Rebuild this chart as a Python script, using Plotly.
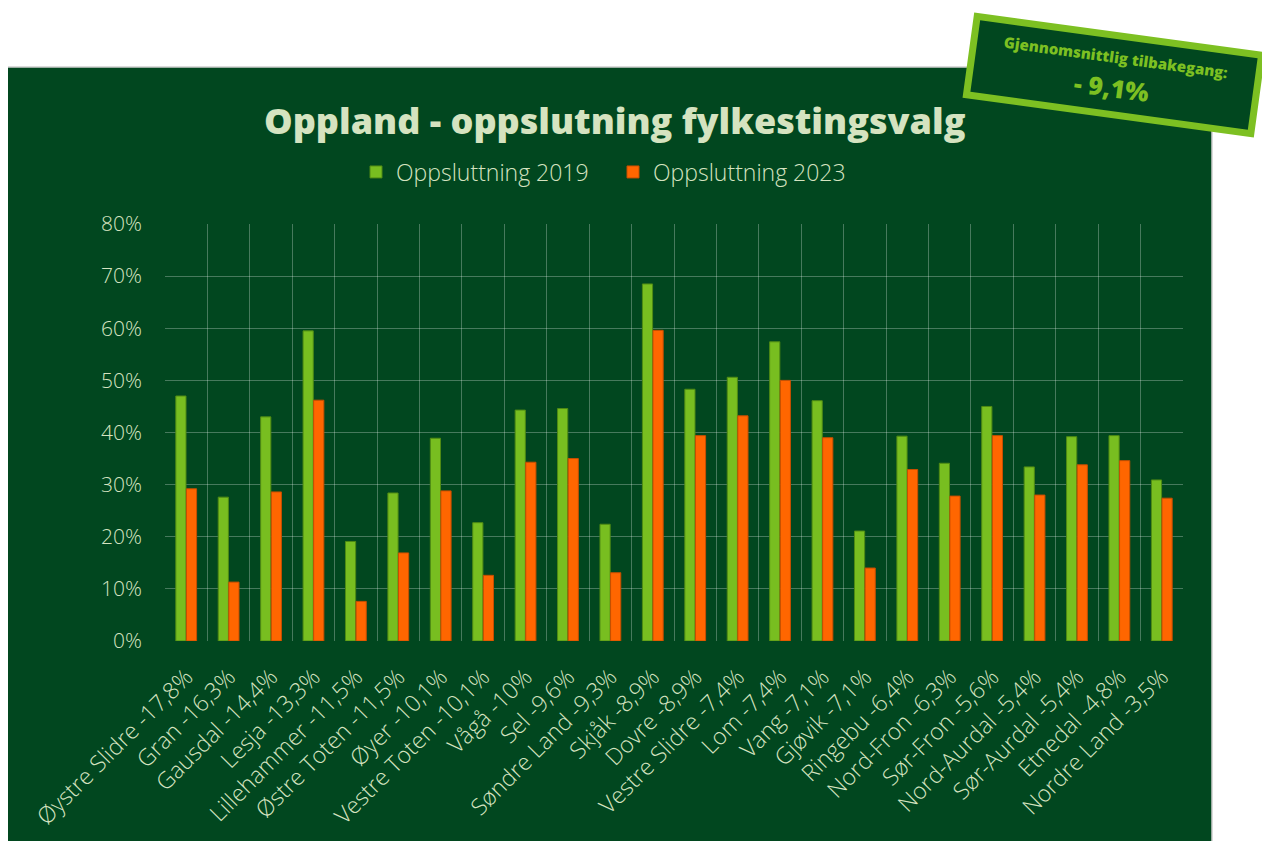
import plotly.graph_objects as go

kommuner = ["Øystre Slidre -17,8%", "Gran -16,3%", "Gausdal -14,4%", "Lesja -13,3%",
            "Lillehammer -11,5%", "Østre Toten -11,5%", "Øyer -10,1%", "Vestre Toten -10,1%",
            "Vågå -10%", "Sel -9,6%", "Søndre Land -9,3%", "Skjåk -8,9%", "Dovre -8,9%",
            "Vestre Slidre -7,4%", "Lom -7,4%", "Vang -7,1%", "Gjøvik -7,1%", "Ringebu -6,4%",
            "Nord-Fron -6,3%", "Sør-Fron -5,6%", "Nord-Aurdal -5,4%", "Sør-Aurdal -5,4%",
            "Etnedal -4,8%", "Nordre Land -3,5%"]
oppslutning_2019 = [47.0, 27.6, 43.0, 59.5, 19.1, 28.4, 38.9, 22.7, 44.3, 44.6, 22.4, 68.5, 48.3,
                    50.6, 57.4, 46.1, 21.1, 39.3, 34.1, 45.0, 33.4, 39.2, 39.4, 30.9]
oppslutning_2023 = [29.2, 11.3, 28.6, 46.2, 7.6, 16.9, 28.8, 12.6, 34.3, 35.0, 13.1, 59.6, 39.4,
                    43.2, 50.0, 39.0, 14.0, 32.9, 27.8, 39.4, 28.0, 33.8, 34.6, 27.4]
snitt_tekst = "Gjennomsnittlig tilbakegang:"
snitt_verdi = "- 9,1%"

BG = "#01471f"
TXT = "#d5e3c0"
GREEN = "#78be20"
ORANGE = "#ff6600"
BOXGREEN = "#7dc022"
FONT = "Open Sans"

fig = go.Figure()
fig.add_trace(go.Bar(name="Oppsluttning 2019", x=kommuner, y=oppslutning_2019,
                     marker=dict(color=GREEN, line=dict(color="#4f8a14", width=1))))
fig.add_trace(go.Bar(name="Oppsluttning 2023", x=kommuner, y=oppslutning_2023,
                     marker=dict(color=ORANGE, line=dict(color="#c84e00", width=1))))

W, H = 1270, 841
OFF = 8  # page body margin
L, R, T, B = 165, 1183, 224, 641  # plot area in screen pixels
pw, ph = R - L, B - T

def px(x):
    return (x - L) / pw

def py(y):
    return (B - y) / ph

ANG = 7.8

fig.update_layout(
    width=W, height=H,
    margin=dict(l=L - OFF, r=W - R + OFF, t=T - OFF, b=H - B + OFF, autoexpand=False),
    paper_bgcolor="white",
    plot_bgcolor="rgba(0,0,0,0)",
    font=dict(family=FONT, color=TXT, size=17),
    barmode="group", bargap=0.5, bargroupgap=0.04,
    showlegend=True,
    legend=dict(orientation="h", x=px(356), y=py(172), xanchor="left", yanchor="middle",
                font=dict(size=23, color=TXT, weight=300), bgcolor="rgba(0,0,0,0)",
                traceorder="normal", entrywidth=212, entrywidthmode="pixels",
                itemwidth=30),
    xaxis=dict(type="category", tickson="boundaries", showgrid=True, automargin=False,
               gridcolor="rgba(255,255,255,0.28)", gridwidth=1, tickangle=-45,
               tickfont=dict(size=23, color=TXT, weight=300), ticks="", showline=False,
               zeroline=False, ticklabelstandoff=17),
    yaxis=dict(range=[0, 80], dtick=10, ticksuffix="%", showgrid=True, automargin=False,
               gridcolor="rgba(255,255,255,0.28)", gridwidth=1,
               tickfont=dict(size=21, color=TXT, weight=300), zeroline=False,
               ticklabelstandoff=22),
    shapes=[dict(type="rect", xref="paper", yref="paper", layer="below",
                 x0=px(5), x1=px(1212), y0=py(860), y1=py(67),
                 fillcolor=BG, line=dict(color="#d0d0d0", width=1.5))],
    annotations=[
        dict(text="Oppland - oppslutning fylkestingsvalg", xref="paper", yref="paper",
             x=px(615), y=py(120), xanchor="center", yanchor="middle", showarrow=False,
             font=dict(family=FONT, size=36, color=TXT, weight=800)),
        dict(text=" ", xref="paper", yref="paper", x=px(1114), y=py(75),
             xanchor="center", yanchor="middle", showarrow=False, textangle=ANG,
             width=280, height=72, bgcolor=BG, bordercolor=BOXGREEN, borderwidth=7,
             borderpad=0, font=dict(size=10)),
        dict(text=snitt_tekst, xref="paper", yref="paper", x=px(1116), y=py(57),
             xanchor="center", yanchor="middle", showarrow=False, textangle=ANG,
             font=dict(family=FONT, size=15, color=BOXGREEN, weight=800)),
        dict(text=snitt_verdi, xref="paper", yref="paper", x=px(1111), y=py(87),
             xanchor="center", yanchor="middle", showarrow=False, textangle=ANG,
             font=dict(family=FONT, size=25, color=BOXGREEN, weight=800)),
    ],
)

fig.write_html("out.html")
